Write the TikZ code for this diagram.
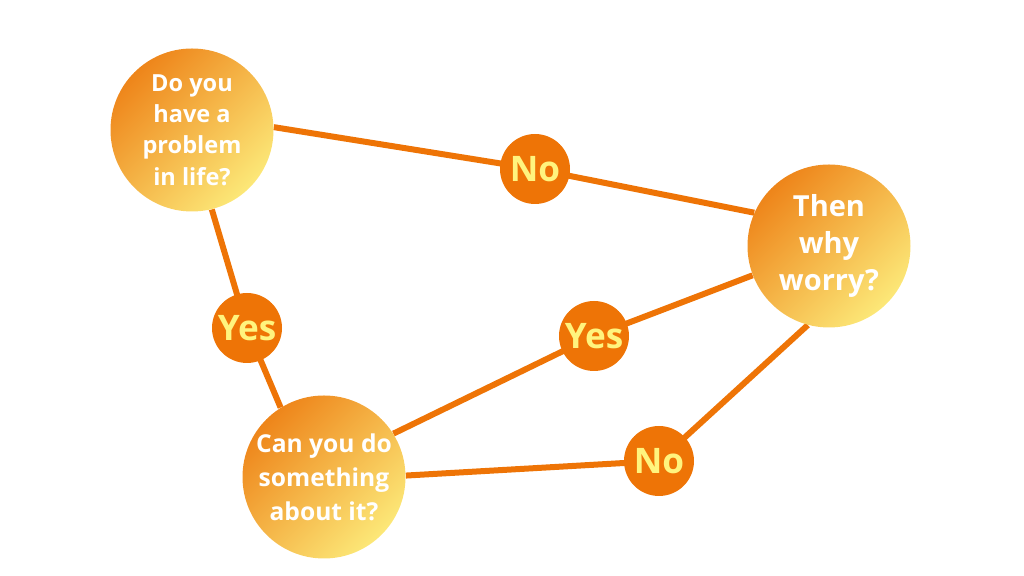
\documentclass[tikz,border=0pt]{standalone}
\usepackage{fontspec}
\setmainfont{Open Sans}[BoldFont={* Bold}]
\usetikzlibrary{backgrounds}
\definecolor{lineorange}{HTML}{EE7406}
\definecolor{deeporange}{HTML}{EE851A}
\definecolor{paleyellow}{HTML}{FCE878}
\definecolor{answeryellow}{HTML}{FFF47E}

\begin{document}
\begin{tikzpicture}[
    question/.style={circle, minimum size=3.26cm, inner sep=0pt,
      top color=deeporange, bottom color=paleyellow, shading angle=45,
      text=white, font=\bfseries\fontsize{13.4}{17.9}\selectfont, align=center},
    answer/.style={circle, minimum size=1.4cm, inner sep=0pt, fill=lineorange,
      text=answeryellow, font=\bfseries\fontsize{20}{24}\selectfont},
    link/.style={lineorange, line width=0.12cm}]
\useasboundingbox (0,0) rectangle (20.48,11.52);
\node[question] (problem) at (3.84,8.92) {Do you\\have a\\problem\\in life?};
\node[question, font=\bfseries\fontsize{16.5}{21.3}\selectfont] (worry) at (16.58,6.60) {Then\\why\\worry?};
\node[question, font=\bfseries\fontsize{14}{19.3}\selectfont] (something) at (6.48,1.98) {Can you do\\something\\about it?};
\node[answer] (nofirst) at (10.70,8.14) {No};
\node[answer] (yesfirst) at (4.94,4.96) {Yes};
\node[answer] (yessecond) at (11.88,4.80) {Yes};
\node[answer] (nosecond) at (13.18,2.30) {No};
\begin{pgfonlayer}{background}
\draw[link] (problem.2) -- (nofirst.center) -- (worry.156);
\draw[link] (problem.284) -- (yesfirst.center) -- (something.122);
\draw[link] (something.32) -- (yessecond.center) -- (worry.201);
\draw[link] (something.1) -- (nosecond.center) -- (worry.255);
\end{pgfonlayer}
\end{tikzpicture}
\end{document}
